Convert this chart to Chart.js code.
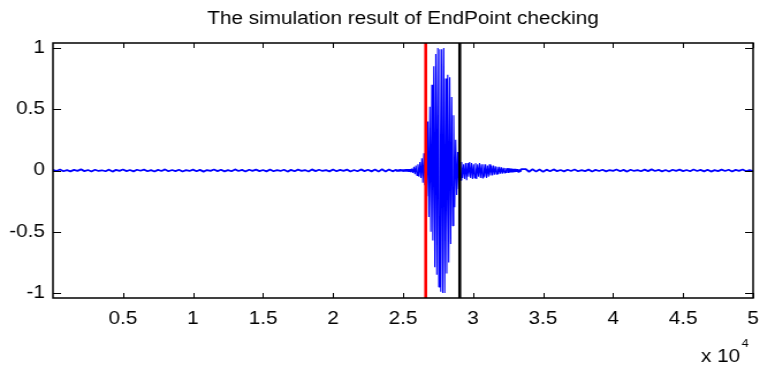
<!DOCTYPE html>
<html>
<head>
<meta charset="utf-8">
<script src="https://cdn.jsdelivr.net/npm/chart.js@4.4.0/dist/chart.umd.min.js"></script>
<style>
  html, body { margin: 0; padding: 0; background: #fff; }
</style>
</head>
<body>
<!-- drawn at 660 wide and stretched to 760, like the original figure export -->
<canvas id="chart" width="660" height="365" style="width:760px;height:365px"></canvas>
<script>
// Endpoint detection result: speech waveform with detected start (red) and end (black)

const titleText = 'The simulation result of EndPoint checking';

// silence before the word, one reading every 250 samples
const leadStart = 0;
const leadStep = 250;
const leadNoise = [0.006, -0.004, 0.008, -0.006, 0.003, -0.007, 0.005, -0.003, 0.009, -0.005,
    0.004, -0.008, 0.006, -0.004, 0.002, -0.006, 0.007, -0.009, 0.005, -0.003,
    0.008, -0.005, 0.004, -0.007, 0.006, -0.002, 0.007, -0.006, 0.003, -0.008,
    0.005, -0.004, 0.009, -0.006, 0.004, -0.005, 0.006, -0.008, 0.003, -0.004,
    0.007, -0.006, 0.005, -0.009, 0.004, -0.003, 0.008, -0.005, 0.006, -0.007,
    0.003, -0.006, 0.009, -0.004, 0.005, -0.008, 0.006, -0.003, 0.007, -0.005,
    0.004, -0.007, 0.008, -0.006, 0.003, -0.004, 0.006, -0.009, 0.005, -0.006,
    0.007, -0.003, 0.004, -0.008, 0.009, -0.005, 0.006, -0.004, 0.003, -0.007,
    0.008, -0.006, 0.005, -0.003, 0.007, -0.008, 0.004, -0.006, 0.009, -0.005,
    0.006, -0.007, 0.008, -0.009, 0.01, -0.008, 0.009, -0.007];

// the word itself, read column by column
const burstStart = 24500;
const burstStep = 71;
const burst = [0.006, -0.007, 0.005, -0.006, 0.008, -0.005, 0.007, -0.008, 0.006, -0.007,
    0.009, -0.008, 0.01, -0.01, 0.01, -0.012, 0.015,
    -0.02, 0.03, -0.03, 0.04, -0.04, 0.05, -0.05, 0.07, -0.06, 0.1, -0.1, 0.14, -0.12,
    0.2, -0.21, 0.4, -0.38, 0.52, -0.5, 0.7, -0.57, 0.85, -0.79,
    0.95, -0.85, 1.0, -0.95, 0.99, -0.99, 0.99, -1.0, 1.0, -1.0,
    0.75, -0.84, 0.78, -0.75, 0.76, -0.6, 0.6, -0.45, 0.45, -0.3,
    0.25, -0.2, 0.15, -0.15, 0.1, -0.08,
    0.07, -0.06, 0.05, -0.07, 0.06, -0.08, 0.06, -0.05, 0.07, -0.06,
    0.06, -0.07, 0.05, -0.06, 0.06, -0.07, 0.05, -0.05, 0.06, -0.06,
    0.05, -0.06, 0.05, -0.05, 0.05, -0.06, 0.04, -0.05, 0.05, -0.04,
    0.04, -0.04, 0.04, -0.035, 0.035, -0.03, 0.03, -0.03, 0.03, -0.025,
    0.025, -0.025, 0.022, -0.02, 0.02, -0.02, 0.018, -0.018, 0.016, -0.015,
    0.015, -0.014, 0.013, -0.012, 0.012,
    -0.01, 0.01, -0.012, 0.009, -0.01, 0.011];

// silence after the word
const tailStart = 33750;
const tailStep = 250;
const tailNoise = [0.012, -0.01, 0.01, -0.009, 0.008, -0.01, 0.007, -0.006, 0.009, -0.005,
    0.004, -0.007, 0.006, -0.004, 0.008, -0.006, 0.003, -0.005, 0.007, -0.008,
    0.005, -0.004, 0.006, -0.007, 0.004, -0.003, 0.008, -0.006, 0.005, -0.009,
    0.006, -0.004, 0.003, -0.006, 0.007, -0.005, 0.009, -0.004, 0.005, -0.007,
    0.004, -0.008, 0.006, -0.003, 0.007, -0.005, 0.004, -0.006, 0.008, -0.004,
    0.005, -0.007, 0.006, -0.009, 0.003, -0.005, 0.007, -0.004, 0.006, -0.008,
    0.005, -0.003, 0.008, -0.006, 0.004, -0.005];

const startPoint = 26620;
const endPoint = 29050;

const xRange = [0, 50000];
const yRange = [-1.04, 1.04];
const xTicks = [5000, 10000, 15000, 20000, 25000, 30000, 35000, 40000, 45000, 50000];
const yTicks = [-1, -0.5, 0, 0.5, 1];
const xExponent = 4;

const fontFamily = '"Liberation Sans", Arial, sans-serif';

function segment(start, step, values) {
    return values.map((y, i) => ({ x: start + i * step, y: y }));
}

const waveform = [
    ...segment(leadStart, leadStep, leadNoise),
    ...segment(burstStart, burstStep, burst),
    ...segment(tailStart, tailStep, tailNoise)
];

function markerLine(x) {
    return [{ x: x, y: yRange[0] - 0.05 }, { x: x, y: yRange[1] + 0.05 }];
}

// the quiet parts show up as a solid band in the original, so draw them a bit heavier
function quietWidth(ctx) {
    const quiet = Math.abs(ctx.p0.parsed.y) < 0.02 && Math.abs(ctx.p1.parsed.y) < 0.02;
    return quiet ? 1.8 : 1.1;
}

// MATLAB style box with inward ticks and the x 10^4 multiplier
const matlabAxes = {
    id: 'matlabAxes',
    afterDraw(chart) {
        const ctx = chart.ctx;
        const area = chart.chartArea;
        const xs = chart.scales.x;
        const ys = chart.scales.y;
        ctx.save();
        ctx.strokeStyle = '#000';
        ctx.lineWidth = 1;
        ctx.beginPath();
        xTicks.forEach(v => {
            const px = Math.round(xs.getPixelForValue(v)) + 0.5;
            ctx.moveTo(px, area.bottom);
            ctx.lineTo(px, area.bottom - 5);
            ctx.moveTo(px, area.top);
            ctx.lineTo(px, area.top + 5);
        });
        yTicks.forEach(v => {
            const py = Math.round(ys.getPixelForValue(v)) + 0.5;
            ctx.moveTo(area.left, py);
            ctx.lineTo(area.left + 7, py);
            ctx.moveTo(area.right, py);
            ctx.lineTo(area.right - 7, py);
        });
        ctx.stroke();

        ctx.lineWidth = 1.5;
        ctx.strokeRect(area.left, area.top, area.right - area.left, area.bottom - area.top);

        ctx.fillStyle = '#000';
        ctx.textAlign = 'right';
        ctx.textBaseline = 'alphabetic';
        ctx.font = '11px ' + fontFamily;
        const expRight = area.right - 4;
        ctx.fillText(String(xExponent), expRight, 347);
        const expWidth = ctx.measureText(String(xExponent)).width;
        ctx.font = '18px ' + fontFamily;
        ctx.fillText('x 10', expRight - expWidth - 1, 362);
        ctx.restore();
    }
};

const tickFont = { family: fontFamily, size: 18 };

new Chart(document.getElementById('chart'), {
    type: 'line',
    data: {
        datasets: [
            {
                label: 'start',
                data: markerLine(startPoint),
                borderColor: '#ff0000',
                borderWidth: 2.6,
                pointRadius: 0
            },
            {
                label: 'end',
                data: markerLine(endPoint),
                borderColor: '#000000',
                borderWidth: 2.6,
                pointRadius: 0
            },
            {
                label: 'signal',
                data: waveform,
                borderColor: '#0000ff',
                borderWidth: 1.1,
                borderJoinStyle: 'bevel',
                segment: { borderWidth: quietWidth },
                pointRadius: 0,
                tension: 0
            }
        ]
    },
    options: {
        responsive: false,
        animation: false,
        events: [],
        layout: { padding: { left: 0, right: 6, top: 0, bottom: 0 } },
        plugins: {
            legend: { display: false },
            tooltip: { enabled: false },
            title: {
                display: true,
                text: titleText,
                fullSize: false,
                color: '#000',
                font: { family: fontFamily, size: 18, weight: 'normal' },
                padding: { top: 8, bottom: 13.4 }
            }
        },
        scales: {
            x: {
                type: 'linear',
                min: xRange[0],
                max: xRange[1],
                afterBuildTicks: s => { s.ticks = xTicks.map(v => ({ value: v })); },
                afterFit: s => {
                    s.height = 67;
                    s.paddingLeft = 0;
                    s.paddingRight = 0;
                },
                grid: { display: false, drawTicks: false },
                border: { display: false },
                ticks: {
                    autoSkip: false,
                    maxRotation: 0,
                    padding: 10,
                    color: '#000',
                    font: tickFont,
                    callback: v => String(v / Math.pow(10, xExponent))
                }
            },
            y: {
                type: 'linear',
                min: yRange[0],
                max: yRange[1],
                afterBuildTicks: s => { s.ticks = yTicks.map(v => ({ value: v })); },
                afterFit: s => { s.width = 46; },
                grid: { display: false, drawTicks: false },
                border: { display: false },
                ticks: {
                    padding: 7,
                    color: '#000',
                    font: tickFont,
                    callback: v => String(v)
                }
            }
        }
    },
    plugins: [matlabAxes]
});
</script>
</body>
</html>
